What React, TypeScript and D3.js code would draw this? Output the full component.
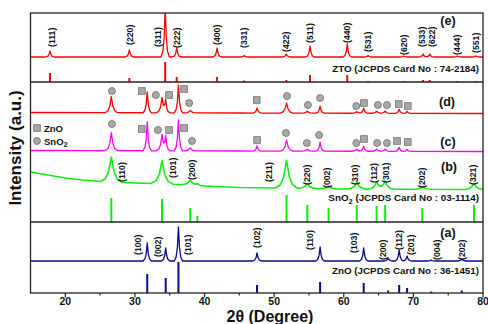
import * as d3 from 'd3';

const W = 488;
const H = 324;

// 2θ axis
const xTicks = [20, 30, 40, 50, 60, 70, 80];
const xMinor = [25, 35, 45, 55, 65, 75];

// peak tables: [2θ, height (a.u.), half base width (deg)]
// (e) ZTO sample
const ztoBg = [[15, 0], [80, 0]];
const ztoPeaks = [
  [17.8, 6, 0.6], [29.2, 7, 0.6], [34.35, 50, 0.6], [36.0, 9, 0.6], [41.8, 9, 0.6],
  [45.7, 1.5, 0.6], [51.75, 3, 0.6], [55.15, 11, 0.6], [60.5, 13, 0.6], [63.5, 1.5, 0.6],
  [68.6, 1, 0.6], [71.4, 3, 0.6], [72.35, 3, 0.6], [76.3, 1, 0.6], [79.0, 1, 0.6],
];
const ztoSticks = [
  [17.8, 9], [29.2, 4], [34.35, 20], [36.0, 5], [41.8, 5], [45.7, 1.5], [51.75, 2], [55.15, 7],
  [60.5, 7], [63.5, 1], [68.6, 1], [71.4, 2], [72.35, 2], [76.3, 1], [79.0, 1],
];
const ztoHkl = [
  ['(111)', 18.1, 10], ['(220)', 29.3, 12], ['(311)', 33.3, 10], ['(222)', 36.05, 9],
  ['(400)', 41.8, 12], ['(331)', 45.7, 9], ['(422)', 51.7, 5], ['(511)', 55.16, 14],
  ['(440)', 60.5, 14], ['(531)', 63.5, 5], ['(620)', 68.66, 2], ['(533)', 71.2, 10],
  ['(622)', 72.6, 10], ['(444)', 76.3, 2], ['(551)', 79.05, 4],
];

// (d) sample
const dBg = [[15, 0.5], [45, 0], [80, -0.5]];
const dPeaks = [
  [26.61, 16, 0.9], [31.77, 21, 0.6], [33.89, 15, 0.8], [34.42, 12, 0.6], [36.25, 28, 0.6],
  [37.95, 2.5, 0.8], [47.54, 5, 0.6], [51.78, 10, 0.9], [54.76, 2, 0.8], [56.6, 7, 0.6],
  [61.87, 1.5, 0.8], [62.86, 5, 0.6], [64.72, 2, 0.8], [65.94, 2, 0.8], [67.96, 4, 0.6], [69.1, 2, 0.6],
];
const dMarks = [
  ['ci', 26.7, 22], ['sq', 31.0, 22], ['ci', 33.0, 18], ['sq', 34.9, 18], ['sq', 37.05, 24],
  ['ci', 37.8, 10], ['sq', 47.5, 13], ['ci', 51.85, 17], ['ci', 54.85, 8], ['ci', 56.6, 15],
  ['ci', 61.8, 7], ['sq', 62.9, 10], ['ci', 64.9, 8], ['ci', 66.2, 8], ['sq', 67.9, 9], ['sq', 69.2, 7],
];

// (c) sample
const cBg = [[15, 0.5], [45, 0], [80, -0.5]];
const cPeaks = [
  [26.61, 18, 0.9], [31.77, 29, 0.6], [33.89, 16, 0.8], [34.42, 14, 0.6], [36.25, 31, 0.6],
  [37.95, 3, 0.8], [47.54, 5, 0.6], [51.78, 11, 0.9], [54.76, 2, 0.8], [56.6, 9, 0.6],
  [61.87, 2, 0.8], [62.86, 5, 0.6], [64.72, 2, 0.8], [65.94, 2, 0.8], [67.96, 4, 0.6], [69.1, 2, 0.6],
];
const cMarks = [
  ['ci', 26.7, 27], ['sq', 31.0, 22], ['ci', 33.3, 21], ['sq', 34.9, 21], ['sq', 37.05, 23],
  ['ci', 38.2, 10], ['sq', 47.55, 11], ['ci', 51.7, 18], ['ci', 54.7, 8], ['ci', 56.45, 16],
  ['ci', 61.8, 8], ['sq', 62.9, 12], ['ci', 64.8, 8], ['ci', 66.2, 8], ['sq', 67.65, 10], ['sq', 69.2, 9],
];

// (b) SnO2
const sno2Bg = [
  [15, 17], [17.5, 14], [20, 11], [22.5, 9], [25, 7.5], [30, 6], [35, 5], [40, 3],
  [45, 1.5], [50, 1], [55, 0.5], [60, 0], [80, -0.5],
];
const sno2Peaks = [
  [26.61, 25, 1.6], [33.89, 23, 1.6], [37.95, 5, 1.4], [38.97, 1.5, 1.0], [51.78, 28, 1.6],
  [54.76, 5, 1.4], [57.82, 3, 1.2], [61.87, 7, 1.4], [64.72, 7, 1.3], [65.94, 8, 1.3],
  [71.28, 2.5, 1.4], [78.71, 6, 1.4],
];
const sno2Sticks = [
  [26.61, 24], [33.89, 23], [37.95, 14], [38.97, 6], [51.78, 27], [54.76, 17],
  [57.82, 14], [61.87, 17], [64.72, 16], [65.94, 17], [71.28, 14], [78.71, 17],
];
const sno2Hkl = [
  ['(110)', 28.16, 7], ['(101)', 35.47, 11], ['(200)', 38.2, 9], ['(211)', 49.27, 7],
  ['(220)', 54.73, 4], ['(002)', 57.6, 1], ['(310)', 61.6, 4], ['(112)', 64.35, 6],
  ['(301)', 66.07, 6], ['(202)', 71.25, 1], ['(321)', 78.58, 4],
];

// (a) ZnO
const znoBg = [[15, 0], [80, 0]];
const znoPeaks = [
  [31.77, 18, 0.6], [34.42, 13, 0.6], [36.25, 34, 0.6], [47.54, 8, 0.6], [56.6, 14, 0.6],
  [62.86, 13, 0.6], [66.38, 3, 0.6], [67.96, 11, 0.6], [69.1, 5, 0.6], [72.56, 1, 0.6], [76.95, 2, 0.7],
];
const znoSticks = [
  [31.77, 19], [34.42, 15], [36.25, 31], [47.54, 8], [56.6, 11], [62.86, 10],
  [66.38, 2.5], [67.96, 8], [69.1, 5], [72.56, 1.5], [76.95, 2.5],
];
const znoHkl = [
  ['(100)', 30.45, 6], ['(002)', 33.32, 4], ['(101)', 37.63, 6], ['(102)', 47.54, 13],
  ['(110)', 55.16, 11], ['(103)', 61.48, 8], ['(200)', 65.6, 1], ['(112)', 67.9, 11],
  ['(201)', 69.6, 6], ['(004)', 73.36, 1], ['(202)', 76.95, 1],
];

// vertical offsets of each trace (same units as intensity)
const off = { znoRef: 0, a: 32, sno2Ref: 71, b: 104, c: 142, d: 180, ztoRef: 211, e: 236 };

const font = '"Liberation Sans", Arial, sans-serif';
const left = 30.5, right = 483, top = 13, bottom = 293;

const x = d3.scaleLinear().domain([15, 80]).range([left, right]);
const y = d3.scaleLinear().domain([0, 280]).range([bottom, top]);

// peak outline relative to its position/height
const shape = [[-1, 0], [-0.55, 0.12], [-0.25, 0.4], [0, 1], [0.25, 0.4], [0.55, 0.12], [1, 0]];

function profile(bg: number[][], peaks: number[][]) {
  const base = d3.scaleLinear().domain(bg.map(d => d[0])).range(bg.map(d => d[1])).clamp(true);
  const tents = peaks.map(([p, h, w]) =>
    d3.scaleLinear().domain(shape.map(s => p + s[0] * w)).range(shape.map(s => s[1] * h)).clamp(true));
  const xs = new Set<number>(bg.map(d => d[0]));
  peaks.forEach(([p, , w]) => shape.forEach(s => xs.add(p + s[0] * w)));
  return Array.from(xs).filter(t => t >= 15 && t <= 80).sort((a, b) => a - b)
    .map(t => [t, base(t) + d3.sum(tents, f => f(t))]);
}

function Trace({ bg, peaks, o, color, sw = 1.3 }: any) {
  const line = d3.line<number[]>().x(d => x(d[0])).y(d => y(o + d[1]));
  return <path d={line(profile(bg, peaks)) || ''} fill="none" stroke={color} strokeWidth={sw} strokeLinejoin="round" />;
}

function Sticks({ data, o, color }: any) {
  return (
    <g stroke={color} strokeWidth={2}>
      {data.map((d: number[], i: number) => (
        <line key={i} x1={x(d[0])} x2={x(d[0])} y1={y(o)} y2={y(o + d[1])} />
      ))}
    </g>
  );
}

function Hkl({ data, o }: any) {
  return (
    <g fontSize={8.7} fontWeight="bold" fill="#111">
      {data.map((d: any[], i: number) => (
        <text key={i} transform={`translate(${x(d[1])},${y(o + d[2])}) rotate(-90)`} dy="0.35em">{d[0]}</text>
      ))}
    </g>
  );
}

function Marks({ data, o }: any) {
  return (
    <g fill="#a8a8a8" stroke="#6e6e6e" strokeWidth={0.8}>
      {data.map((d: any[], i: number) => {
        const cx = x(d[1]), cy = y(o + d[2]);
        return d[0] === 'ci'
          ? <circle key={i} cx={cx} cy={cy} r={3.5} />
          : <rect key={i} x={cx - 3.3} y={cy - 3.3} width={6.6} height={6.6} />;
      })}
    </g>
  );
}

export default function App() {
  return (
    <svg width={W} height={H} style={{ position: 'absolute', left: 0, top: 0, background: '#fff' }} fontFamily={font}>
      <defs>
        <clipPath id="plot">
          <rect x={left} y={top} width={right - left} height={bottom - top} />
        </clipPath>
      </defs>

      <g clipPath="url(#plot)">
        <Trace bg={ztoBg} peaks={ztoPeaks} o={off.e} color="#ff0000" />
        <Sticks data={ztoSticks} o={off.ztoRef} color="#ff0000" />
        <Trace bg={dBg} peaks={dPeaks} o={off.d} color="#ff0000" />
        <Trace bg={cBg} peaks={cPeaks} o={off.c} color="#ff00ff" />
        <Trace bg={sno2Bg} peaks={sno2Peaks} o={off.b} color="#11ee11" sw={1.6} />
        <Sticks data={sno2Sticks} o={off.sno2Ref} color="#11ee11" />
        <Trace bg={znoBg} peaks={znoPeaks} o={off.a} color="#0a0a8a" />
        <Sticks data={znoSticks} o={off.znoRef} color="#0a0a8a" />
      </g>

      <Marks data={dMarks} o={off.d} />
      <Marks data={cMarks} o={off.c} />
      <Hkl data={ztoHkl} o={off.e} />
      <Hkl data={sno2Hkl} o={off.b} />
      <Hkl data={znoHkl} o={off.a} />

      {/* frame and panel separators */}
      <g stroke="#222" strokeWidth={1.3} fill="none">
        <rect x={left} y={top} width={right - left} height={bottom - top} />
        <line x1={left} x2={right} y1={y(off.ztoRef)} y2={y(off.ztoRef)} />
        <line x1={left} x2={right} y1={y(off.sno2Ref)} y2={y(off.sno2Ref)} />
      </g>

      {/* x axis */}
      <g stroke="#222" strokeWidth={1.2}>
        {xTicks.map(t => <line key={t} x1={x(t)} x2={x(t)} y1={bottom} y2={bottom + 4.5} />)}
        {xMinor.map(t => <line key={t} x1={x(t)} x2={x(t)} y1={bottom} y2={bottom + 2.5} />)}
      </g>
      <g fontSize={10.5} fontWeight="bold" textAnchor="middle" fill="#111">
        {xTicks.map(t => <text key={t} x={x(t)} y={305.3}>{t}</text>)}
      </g>
      <text x={270} y={322.3} fontSize={16} fontWeight="bold" textAnchor="middle" fill="#111">2θ (Degree)</text>
      <text transform="translate(15,148) rotate(-90)" dy="0.35em" fontSize={17} fontWeight="bold" textAnchor="middle" fill="#111">Intensity (a.u.)</text>

      {/* panel letters and reference cards */}
      <g fontSize={12.5} fontWeight="bold" textAnchor="middle" fill="#111">
        <text x={448} y={25}>(e)</text>
        <text x={447} y={106}>(d)</text>
        <text x={448} y={146}>(c)</text>
        <text x={449} y={171}>(b)</text>
        <text x={448} y={237}>(a)</text>
      </g>
      <g fontSize={9.8} fontWeight="bold" textAnchor="end" fill="#111">
        <text x={479} y={72}>ZTO (JCPDS Card No : 74-2184)</text>
        <text x={479} y={201}>SnO<tspan dy={2.5} fontSize={7.5}>2</tspan><tspan dy={-2.5}> (JCPDS Card No : 03-1114)</tspan></text>
        <text x={479} y={274}>ZnO (JCPDS Card No : 36-1451)</text>
      </g>

      {/* legend */}
      <rect x={33.7} y={124.7} width={6.6} height={6.6} fill="#a8a8a8" stroke="#6e6e6e" strokeWidth={0.8} />
      <circle cx={37} cy={141} r={3.5} fill="#a8a8a8" stroke="#6e6e6e" strokeWidth={0.8} />
      <g fontSize={9.5} fontWeight="bold" fill="#111">
        <text x={44} y={131.5}>ZnO</text>
        <text x={44} y={144.5}>SnO<tspan dy={2.5} fontSize={7.5}>2</tspan></text>
      </g>
    </svg>
  );
}
